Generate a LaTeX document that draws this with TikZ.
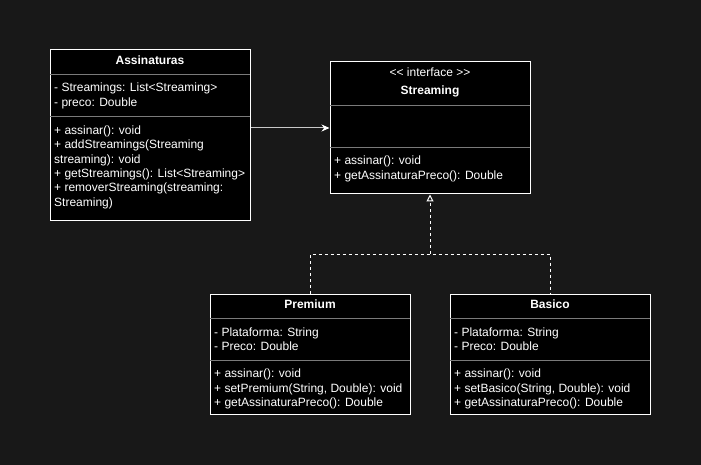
\documentclass[tikz,border=0pt]{standalone}
\usepackage{fontspec}
\setmainfont{Liberation Sans}
\usetikzlibrary{arrows.meta}
\definecolor{bg}{HTML}{181818}
\definecolor{sepgray}{HTML}{7A7A7A}
\definecolor{linkgray}{HTML}{C8C8C8}
\begin{document}
\begin{tikzpicture}[x=1pt, y=-1pt, font=\fontsize{12}{14.4}\selectfont,
  cls/.style = {draw=white, fill=black, line width=1pt, inner sep=0, minimum width=200pt},
  title/.style = {text=white, anchor=base, inner sep=0},
  members/.style = {text=white, anchor=base west, align=left, inner sep=0},
  sep/.style = {draw=sepgray, line width=0.8pt},
  assoc/.style = {draw=linkgray, line width=1pt, -{Stealth[length=8pt, width=7pt, color=white]}},
  dashline/.style = {draw=white, line width=1pt, dash pattern=on 3pt off 3pt},
  realize/.style = {dashline, -{Triangle[open, length=7pt, width=7pt, fill=bg]}}]
\fill[bg] (0,0) rectangle (701,465);

% classes
\node[cls, minimum height=170pt] (assin) at (150,135) {};
\node[cls, minimum height=132pt] (strm) at (430,128) {};
\node[cls, minimum height=120pt] (prem) at (310,354) {};
\node[cls, minimum height=120pt] (basic) at (550,354) {};

\draw[sep] (50,74) -- (250,74) (50,116) -- (250,116);
\draw[sep] (330,105) -- (530,105) (330,147) -- (530,147);
\draw[sep] (210,318) -- (410,318) (210,360) -- (410,360);
\draw[sep] (450,318) -- (650,318) (450,360) -- (650,360);

% Assinaturas (members placed at the baseline of their last line)
\node[title, font=\fontsize{12}{14.4}\selectfont\bfseries] (assinT) at (150,65) {Assinaturas};
\node[members] (assinA) at (54,106.4) {- Streamings: List<Streaming>\\- preco: Double};
\node[members] (assinM) at (54,206.3) {+ assinar(): void\\+ addStreamings(Streaming\\streaming): void\\+ getStreamings(): List<Streaming>\\+ removerStreaming(streaming:\\Streaming)};

% Streaming
\node[title] (strmS) at (430,76.5) {<\kern0pt< interface >\kern0pt>};
\node[title, font=\fontsize{12}{14.4}\selectfont\bfseries] (strmT) at (430,95) {Streaming};
\node[members] (strmM) at (334,179.3) {+ assinar(): void\\+ getAssinaturaPreco(): Double};

% Premium
\node[title, font=\fontsize{12}{14.4}\selectfont\bfseries] (premT) at (310,308.5) {Premium};
\node[members] (premA) at (214,350.4) {- Plataforma: String\\- Preco: Double};
\node[members] (premM) at (214,406.4) {+ assinar(): void\\+ setPremium(String, Double): void\\+ getAssinaturaPreco(): Double};

% Basico
\node[title, font=\fontsize{12}{14.4}\selectfont\bfseries] (basicT) at (550,308.5) {Basico};
\node[members] (basicA) at (454,350.4) {- Plataforma: String\\- Preco: Double};
\node[members] (basicM) at (454,406.4) {+ assinar(): void\\+ setBasico(String, Double): void\\+ getAssinaturaPreco(): Double};

% links
\coordinate (join) at (430,254);
\draw[assoc] (strm.west -| assin.east) -- (strm.west);
\draw[dashline] (prem.north) |- (join) -| (basic.north);
\draw[realize] (join) -- (strm.south);
\end{tikzpicture}
\end{document}
